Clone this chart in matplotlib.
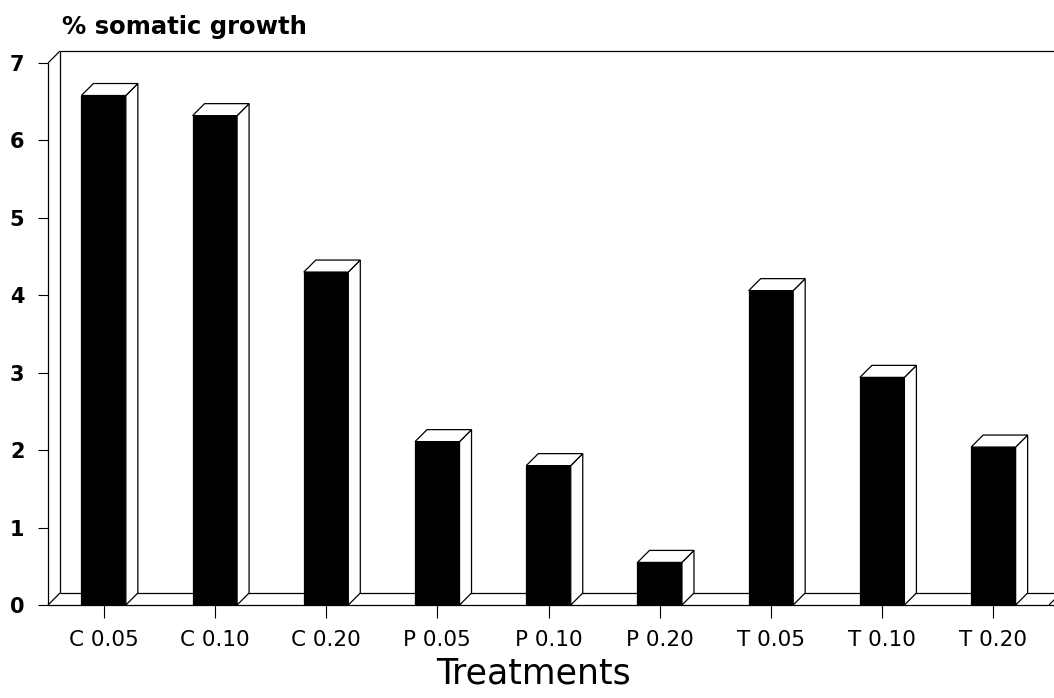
import matplotlib
matplotlib.use('Agg')
import matplotlib.pyplot as plt
from matplotlib.patches import Polygon

# treatment groups and % somatic growth
treatments = ['C 0.05', 'C 0.10', 'C 0.20',
              'P 0.05', 'P 0.10', 'P 0.20',
              'T 0.05', 'T 0.10', 'T 0.20']
growth = [6.58, 6.32, 4.30, 2.11, 1.80, 0.55, 4.06, 2.94, 2.04]
y_ticks = [0, 1, 2, 3, 4, 5, 6, 7]

W, H = 1054, 698
fig = plt.figure(figsize=(W / 100, H / 100), dpi=100)
plt.rcParams['font.family'] = ['DejaVu Sans']

# axes box in pixels (front plane)
x_left, x_right = 48, 1049
y_bot, y_top = 605, 63
ax = fig.add_axes([x_left / W, (H - y_bot) / H,
                   (x_right - x_left) / W, (y_bot - y_top) / H])
x_min, x_max = -0.5, len(treatments) - 0.5
y_min, y_max = 0, 7
ax.set_xlim(x_min, x_max)
ax.set_ylim(y_min, y_max)
for s in ax.spines.values():
    s.set_visible(False)

# depth offset for the pseudo-3D look, ~12 px each way
depth_px = 12
dx = depth_px * (x_max - x_min) / (x_right - x_left)
dy = depth_px * (y_max - y_min) / (y_bot - y_top)

lw = 0.9
kw = dict(color='black', lw=lw, clip_on=False, solid_capstyle='butt')

# floor
ax.plot([x_min, x_max + 0.1], [0, 0], **kw)
ax.plot([x_min + dx, x_max + 0.1], [dy, dy], **kw)
ax.plot([x_min, x_min + dx], [0, dy], **kw)
ax.plot([x_max, x_max + dx], [0, dy], **kw)
# left wall and back wall top edge
ax.plot([x_min, x_min], [0, y_max], **kw)
ax.plot([x_min + dx, x_min + dx], [dy, y_max + dy], **kw)
ax.plot([x_min, x_min + dx], [y_max, y_max + dy], **kw)
ax.plot([x_min + dx, x_max + 0.1], [y_max + dy, y_max + dy], **kw)

# bars: black front, white top and side faces
bar_w = 0.4
xs = list(range(len(treatments)))
ax.bar(xs, growth, width=bar_w, color='black', edgecolor='black',
       linewidth=lw, zorder=3)
for x, h in zip(xs, growth):
    x0, x1 = x - bar_w / 2, x + bar_w / 2
    top = Polygon([(x0, h), (x1, h), (x1 + dx, h + dy), (x0 + dx, h + dy)],
                  closed=True, facecolor='white', edgecolor='black',
                  linewidth=lw, zorder=3, clip_on=False)
    side = Polygon([(x1, 0), (x1 + dx, dy), (x1 + dx, h + dy), (x1, h)],
                   closed=True, facecolor='white', edgecolor='black',
                   linewidth=lw, zorder=3, clip_on=False)
    ax.add_patch(side)
    ax.add_patch(top)

ax.set_xticks(xs)
ax.set_xticklabels(treatments, fontsize=15.5)
ax.set_yticks(y_ticks)
ax.set_yticklabels([str(v) for v in y_ticks], fontsize=15, fontweight='bold')
ax.tick_params(axis='x', length=9, width=0.8, pad=9, direction='out')
ax.tick_params(axis='y', length=7, width=0.8, pad=10, direction='out')

fig.text(62 / W, 1 - 27 / H, '% somatic growth', fontsize=17.5,
         fontweight='bold', ha='left', va='center')
fig.text(533 / W, 1 - 674 / H, 'Treatments', fontsize=25,
         ha='center', va='center')

fig.savefig('out.png', dpi=100, facecolor='white')
